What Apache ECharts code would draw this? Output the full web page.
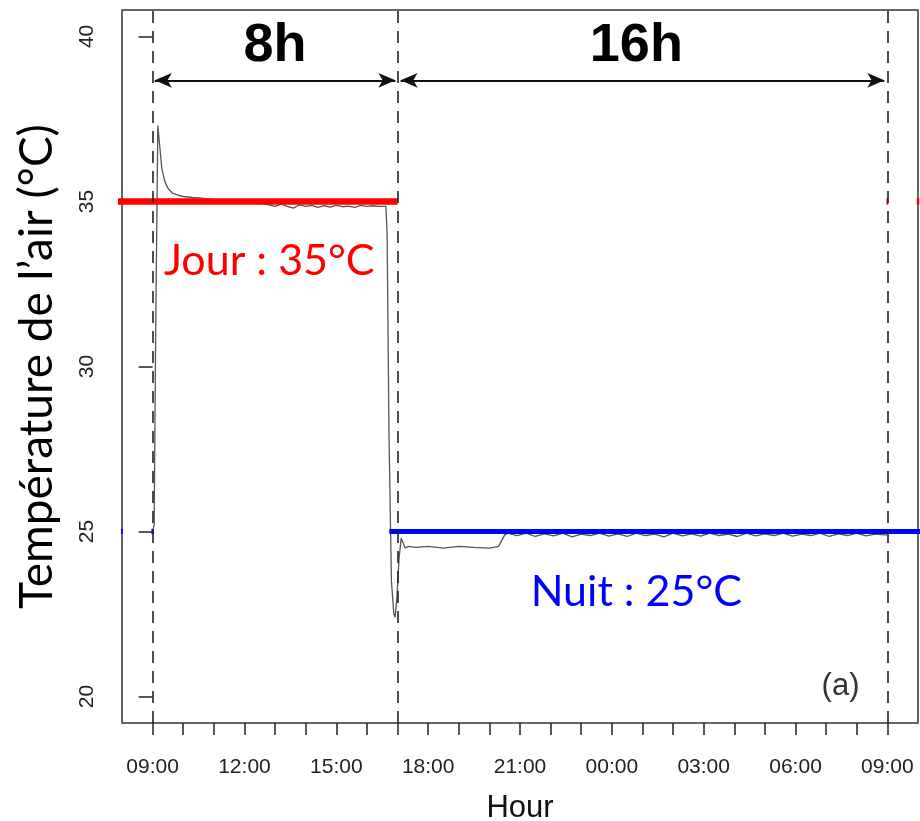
<!DOCTYPE html>
<html>
<head>
<meta charset="utf-8">
<script src="https://cdn.jsdelivr.net/npm/echarts@6/dist/echarts.min.js"></script>
<style>html,body{margin:0;padding:0;background:#fff}#c{width:920px;height:821px}</style>
</head>
<body>
<div id="c"></div>
<script>
// hours elapsed since 09:00
const tickHours = [0,1,2,3,4,5,6,7,8,9,10,11,12,13,14,15,16,17,18,19,20,21,22,23,24];
const labelHours = [0,3,6,9,12,15,18,21,24];
const xTickLabels = ['09:00','12:00','15:00','18:00','21:00','00:00','03:00','06:00','09:00'];
const yTicks = [20,25,30,35,40];

// measured air temperature (hours since 09:00, °C)
const tempHours = [0.00,0.05,0.10,0.17,0.22,0.30,0.40,0.50,0.65,0.80,1.00,1.30,1.60,2.00,2.50,3.00,3.50,3.80,4.00,4.20,4.40,4.60,4.80,5.00,5.20,5.40,5.60,5.80,6.00,6.20,6.40,6.60,6.80,7.00,7.20,7.40,7.62,7.66,7.72,7.80,7.88,7.92,7.98,8.05,8.12,8.18,8.25,8.35,8.60,9.00,9.50,10.00,10.50,11.00,11.30,11.50,11.60,11.90,12.20,12.50,12.80,13.10,13.40,13.70,14.00,14.30,14.60,14.90,15.20,15.50,15.80,16.10,16.40,16.70,17.00,17.30,17.60,17.90,18.20,18.50,18.80,19.10,19.40,19.70,20.00,20.30,20.60,20.90,21.20,21.50,21.80,22.10,22.40,22.70,23.00,23.30,23.60,23.90,24.00];
const tempValues = [25.0,25.2,31.0,37.3,36.8,36.0,35.6,35.4,35.25,35.2,35.15,35.12,35.1,35.05,35.0,34.98,34.95,34.9,34.85,34.92,34.85,34.8,34.9,34.85,34.88,34.82,34.87,34.83,34.88,34.84,34.86,34.82,34.88,34.85,34.87,34.85,34.85,34.0,28.0,23.5,22.5,22.4,23.0,24.2,24.8,24.75,24.5,24.55,24.52,24.55,24.5,24.55,24.52,24.5,24.55,24.9,24.95,24.88,24.95,24.85,24.93,24.87,24.95,24.84,24.92,24.88,24.95,24.86,24.93,24.85,24.95,24.88,24.92,24.84,24.95,24.87,24.93,24.86,24.95,24.88,24.92,24.85,24.95,24.87,24.93,24.88,24.95,24.86,24.92,24.88,24.95,24.85,24.93,24.88,24.95,24.87,24.92,24.9,24.9];

// set-points (day / night)
const daySetHours = [-1.5, 8.0];
const daySetValue = 35;
const nightSetHours = [7.73, 25.2];
const nightSetValue = 25;

// photoperiod boundaries and annotations
const boundaries = [0, 8, 24];
const dayLabel = 'Jour : 35°C';
const nightLabel = 'Nuit : 25°C';
const periodLabels = ['8h', '16h'];

const tempData = tempHours.map((h, i) => [h, tempValues[i]]);
const dayData = [[daySetHours[0], daySetValue], [daySetHours[1], daySetValue], [8.05, '-'],
                 [23.97, daySetValue], [24.03, daySetValue], [24.5, '-'],
                 [24.96, daySetValue], [25.04, daySetValue]];
const nightData = [[-1.03, nightSetValue], [-0.97, nightSetValue], [-0.5, '-'],
                   [-0.04, nightSetValue], [0.04, nightSetValue], [0.5, '-'],
                   [nightSetHours[0], nightSetValue], [nightSetHours[1], nightSetValue]];

const annFont = 'Lato, "Open Sans", sans-serif';
const rFont = '"Liberation Sans", Arial, sans-serif';

const chart = echarts.init(document.getElementById('c'), null, {renderer: 'canvas'});
chart.setOption({
  animation: false,
  backgroundColor: '#fff',
  grid: {left: 122, right: 2, top: 10, bottom: 98, show: true, borderColor: '#333', borderWidth: 1.5,
         backgroundColor: 'transparent', containLabel: false, outerBoundsMode: 'none'},
  xAxis: {
    type: 'value', min: -1, max: 25,
    name: 'Hour', nameLocation: 'middle', nameGap: 70,
    nameTextStyle: {fontFamily: rFont, fontSize: 31, color: '#111'},
    axisLine: {show: false},
    axisTick: {show: true, length: 12, lineStyle: {color: '#222', width: 1.5}, customValues: tickHours},
    axisLabel: {fontFamily: rFont, fontSize: 21, color: '#222', margin: 34,
      customValues: labelHours,
      formatter: v => xTickLabels[labelHours.indexOf(Math.round(v))] || ''},
    splitLine: {show: false}
  },
  yAxis: {
    type: 'value', min: 19.2, max: 40.8,
    name: 'Température de l’air (°C)', nameLocation: 'middle', nameGap: 62,
    nameTextStyle: {fontFamily: annFont, fontSize: 46, color: '#000'},
    axisLine: {show: false},
    axisTick: {show: true, length: 14, lineStyle: {color: '#222', width: 1.5}, customValues: yTicks},
    axisLabel: {fontFamily: rFont, fontSize: 21, color: '#222', rotate: 90, margin: 24,
      customValues: yTicks},
    splitLine: {show: false}
  },
  series: [
    {
      type: 'line', data: tempData, symbol: 'none', z: 3,
      lineStyle: {color: '#555', width: 1.3},
      markLine: {
        silent: true, symbol: ['none', 'none'], label: {show: false},
        lineStyle: {color: '#222', width: 1.6, type: [12, 8]},
        data: boundaries.map(b => ({xAxis: b}))
      },
      markPoint: {
        silent: true, symbolSize: 0,
        data: [
          {coord: [4.0, 39.72], label: {show: true, position: 'inside', formatter: periodLabels[0], fontFamily: rFont, fontWeight: 'bold', fontSize: 54, color: '#000'}},
          {coord: [15.8, 39.7], label: {show: true, position: 'inside', formatter: periodLabels[1], fontFamily: rFont, fontWeight: 'bold', fontSize: 54, color: '#000'}},
          {coord: [3.81, 33.18], label: {show: true, position: 'inside', formatter: dayLabel, fontFamily: annFont, fontSize: 43, color: '#ff0000'}},
          {coord: [15.8, 23.15], label: {show: true, position: 'inside', formatter: nightLabel, fontFamily: annFont, fontSize: 43, color: '#0000ff'}},
          {coord: [22.47, 20.3], label: {show: true, position: 'inside', formatter: '(a)', fontFamily: rFont, fontSize: 31, color: '#333'}}
        ]
      }
    },
    {
      type: 'line', data: dayData, symbol: 'none', clip: false, z: 4,
      connectNulls: false,
      lineStyle: {color: '#ff0000', width: 6.5, cap: 'butt'},
      markLine: {
        silent: true, symbol: ['arrow', 'arrow'], symbolSize: [11, 17], label: {show: false},
        lineStyle: {color: '#111', width: 2, type: 'solid'},
        data: [
          [{coord: [0.07, 38.67]}, {coord: [7.93, 38.67]}],
          [{coord: [8.1, 38.67]}, {coord: [23.9, 38.67]}]
        ]
      }
    },
    {
      type: 'line', data: nightData, symbol: 'none', clip: false, z: 4,
      connectNulls: false,
      lineStyle: {color: '#0000ff', width: 5, cap: 'butt'}
    }
  ]
});
</script>
</body>
</html>
